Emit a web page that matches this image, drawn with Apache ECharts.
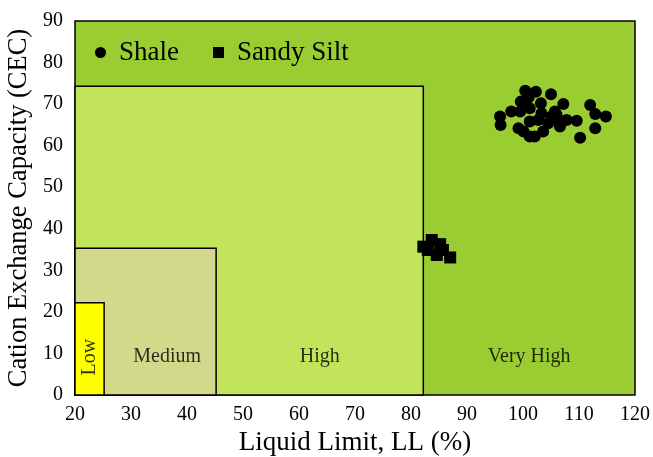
<!DOCTYPE html>
<html><head><meta charset="utf-8">
<script src="https://cdn.jsdelivr.net/npm/echarts@6/dist/echarts.min.js"></script>
<style>html,body{margin:0;padding:0;background:#fff}#c{width:653px;height:457px}</style>
</head><body><div id="c"></div>
<script>
// Region boxes (all start at LL=20, CEC=0)
const regionNames = ['Very High', 'High', 'Medium', 'Low'];
const regionXMax = [120, 82.2, 45.2, 25.2];
const regionYMax = [90, 74.3, 35.3, 22.2];
const regionColors = ['#9acd32', '#c1e45a', '#d3d98b', '#ffff00'];

const xTicks = [20, 30, 40, 50, 60, 70, 80, 90, 100, 110, 120];
const yTicks = [0, 10, 20, 30, 40, 50, 60, 70, 80, 90];

const shaleLL = [100.4, 102.3, 105.0, 99.6, 101.0, 103.2, 107.2, 112.0, 97.9, 95.9, 96.0, 99.5, 101.2, 103.3, 105.7, 112.9, 114.8, 101.2, 102.7, 104.5, 106.3, 107.8, 109.6, 99.2, 100.1, 103.6, 106.6, 112.9, 101.2, 102.1, 110.2, 105.1, 106.0];
const shaleCEC = [73.2, 73.0, 72.4, 70.6, 71.6, 70.2, 70.0, 69.8, 68.2, 67.0, 65.0, 68.2, 69.0, 67.8, 68.2, 67.6, 67.0, 65.8, 66.2, 65.4, 65.8, 66.2, 66.0, 64.2, 63.4, 63.4, 64.6, 64.2, 62.2, 62.2, 61.9, 67.0, 67.4];

const siltLL = [82.2, 83.7, 85.2, 84.6, 87.0, 85.7, 83.0];
const siltCEC = [35.7, 37.3, 36.3, 33.7, 33.1, 34.9, 34.9];

const FONT = 'Liberation Serif';

const regionSeries = regionNames.map((n, i) => ({
  type: 'scatter', name: 'region_' + i, data: [], silent: true, z: 1 + i,
  markArea: {
    silent: true,
    itemStyle: { color: regionColors[i], borderColor: '#000', borderWidth: 1.5 },
    label: { show: false },
    data: [[{ coord: [20, 0] }, { coord: [regionXMax[i], regionYMax[i]] }]]
  }
}));

const labelData = regionNames.map((n, i) => {
  const lo = i < regionNames.length - 1 ? regionXMax[i + 1] : 20;
  return { value: [(lo + regionXMax[i]) / 2, 9.1], name: n };
});

const chart = echarts.init(document.getElementById('c'));
chart.setOption({
  animation: false,
  grid: { left: 75, top: 21, width: 560, height: 374, show: false, outerBoundsMode: 'none', containLabel: false },
  xAxis: {
    type: 'value', min: 20, max: 120, interval: 10,
    axisLine: { show: false }, axisTick: { show: false }, splitLine: { show: false },
    axisLabel: { color: '#000', fontFamily: FONT, fontSize: 20, margin: 10 },
    name: 'Liquid Limit, LL (%)', nameLocation: 'middle', nameGap: 31,
    nameTextStyle: { color: '#000', fontFamily: FONT, fontSize: 27 }
  },
  yAxis: {
    type: 'value', min: 0, max: 90, interval: 10,
    axisLine: { show: false }, axisTick: { show: false }, splitLine: { show: false },
    axisLabel: { color: '#000', fontFamily: FONT, fontSize: 20, margin: 12 },
    name: 'Cation Exchange Capacity (CEC)', nameLocation: 'middle', nameGap: 40,
    nameTextStyle: { color: '#000', fontFamily: FONT, fontSize: 26.5 }
  },
  legend: {
    data: ['Shale', 'Sandy Silt'], left: 90, top: 34, itemWidth: 11, itemHeight: 11, itemGap: 34,
    textStyle: { color: '#000', fontFamily: FONT, fontSize: 27, padding: [0, 0, 0, 8] }
  },
  series: [
    ...regionSeries,
    {
      type: 'scatter', name: 'labels', z: 10, silent: true, symbolSize: 0,
      data: labelData.map(d => ({
        value: d.value,
        label: {
          show: true, formatter: d.name, position: 'inside',
          color: '#000', fontFamily: FONT, fontSize: 20,
          rotate: d.name === 'Low' ? 90 : 0,
          offset: d.name === 'Medium' ? [7, 0] : [0, 0]
        }
      }))
    },
    {
      type: 'scatter', name: 'Shale', symbol: 'circle', symbolSize: 12, z: 20,
      itemStyle: { color: '#000', opacity: 1 },
      data: shaleLL.map((x, i) => [x, shaleCEC[i]])
    },
    {
      type: 'scatter', name: 'Sandy Silt', symbol: 'rect', symbolSize: 12, z: 20,
      itemStyle: { color: '#000', opacity: 1 },
      data: siltLL.map((x, i) => [x, siltCEC[i]])
    }
  ]
});
</script></body></html>
